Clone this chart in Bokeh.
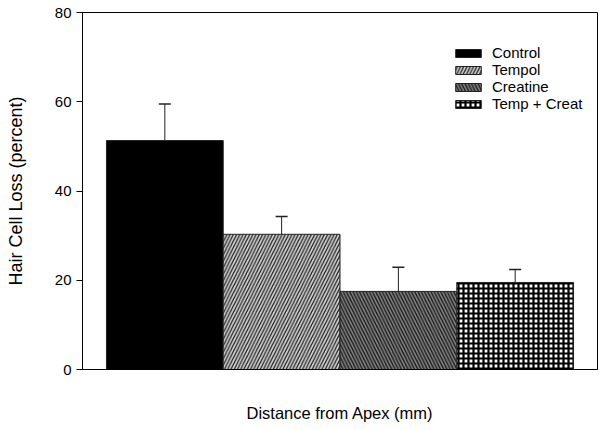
from bokeh.plotting import figure
from bokeh.models import ColumnDataSource, Whisker, FixedTicker, Legend, LegendItem, TeeHead, Range1d
from bokeh.embed import file_html
from bokeh.resources import INLINE

groups = ["Control", "Tempol", "Creatine", "Temp + Creat"]
positions = [1, 2, 3, 4]
means = [51.3, 30.3, 17.5, 19.5]
errors = [8.2, 4.0, 5.4, 2.9]
y_ticks = [0, 20, 40, 60, 80]

fills = ["#000000", "#d2d2d2", "#858585", "#ffffff"]
hatches = [" ", "/", "\\", "+"]
hatch_colors = ["#000000", "#222222", "#1a1a1a", "#000000"]
hatch_scales = [6, 6.5, 6.5, 5]
hatch_weights = [1, 1.3, 1.4, 2.2]

p = figure(width=602, height=430, output_backend="svg", toolbar_location=None,
           x_range=Range1d(0.295, 4.705), y_range=Range1d(0, 80),
           min_border_left=82, min_border_right=5, min_border_top=12, min_border_bottom=61)
p.background_fill_color = "white"
p.border_fill_color = "white"
p.outline_line_color = "#000000"
p.outline_line_width = 1
p.grid.visible = False

items = []
for i in range(4):
    src = ColumnDataSource(dict(x=[positions[i]], top=[means[i]]))
    r = p.vbar(x="x", top="top", bottom=0, width=1.0, source=src,
               fill_color=fills[i], line_color="#222222", line_width=1,
               hatch_pattern=hatches[i], hatch_color=hatch_colors[i],
               hatch_scale=hatch_scales[i], hatch_weight=hatch_weights[i])
    items.append(LegendItem(label=groups[i], renderers=[r]))

upper = [m + e for m, e in zip(means, errors)]
wsrc = ColumnDataSource(dict(x=positions, base=means, upper=upper, lower=means))
w = Whisker(source=wsrc, base="x", upper="upper", lower="lower", dimension="height",
            line_color="#222222", line_width=1,
            upper_head=TeeHead(size=12, line_color="#222222", line_width=1.5),
            lower_head=None)
p.add_layout(w)

legend = Legend(items=items, location=(370, 257), orientation="vertical",
                glyph_width=32, glyph_height=10, label_text_font="Liberation Sans",
                label_text_font_size="15px", label_text_color="#000000",
                spacing=0, padding=0, margin=0, label_standoff=8,
                border_line_color=None, background_fill_alpha=0,
                label_height=14)
p.add_layout(legend)

p.yaxis.ticker = FixedTicker(ticks=y_ticks)
p.yaxis.minor_tick_line_color = None
p.yaxis.major_tick_out = 6
p.yaxis.major_tick_in = 0
p.yaxis.major_label_standoff = 5
p.yaxis.major_label_text_font = "Liberation Sans"
p.yaxis.major_label_text_font_size = "15px"
p.yaxis.major_label_text_color = "#000000"
p.yaxis.axis_label = "Hair Cell Loss (percent)"
p.yaxis.axis_label_text_font = "Liberation Sans"
p.yaxis.axis_label_text_font_size = "18px"
p.yaxis.axis_label_text_font_style = "normal"
p.yaxis.axis_label_text_color = "#000000"
p.yaxis.axis_label_standoff = 26
p.yaxis.axis_line_color = "#000000"

p.xaxis.ticker = FixedTicker(ticks=[])
p.xaxis.minor_tick_line_color = None
p.xaxis.major_tick_line_color = None
p.xaxis.major_label_text_font_size = "0px"
p.xaxis.axis_label = "Distance from Apex (mm)"
p.xaxis.axis_label_text_font = "Liberation Sans"
p.xaxis.axis_label_text_font_size = "16.5px"
p.xaxis.axis_label_text_font_style = "normal"
p.xaxis.axis_label_text_color = "#000000"
p.xaxis.axis_label_standoff = 34
p.xaxis.axis_line_color = "#000000"

open("out.html", "w").write(file_html(p, INLINE))
